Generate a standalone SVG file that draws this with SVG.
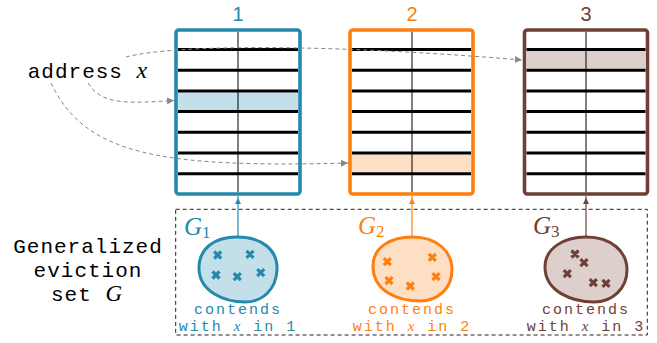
<svg xmlns="http://www.w3.org/2000/svg" width="657" height="343" viewBox="0 0 657 343">
<defs>
<marker id="ag" viewBox="0 0 10 10" refX="10" refY="5" markerWidth="7" markerHeight="7" markerUnits="userSpaceOnUse" orient="auto">
<path d="M0,0 L10,5 L0,10 Z" fill="#888888" stroke="none"/>
</marker>
</defs>
<style>
.box{fill:#fff;stroke-width:3.6}
.row{stroke:#000;stroke-width:3}
.mid{stroke:#000;stroke-width:1}
.lbl{font-family:"Liberation Sans","DejaVu Sans",sans-serif;font-size:20px;text-anchor:middle}
.tt{font-family:"Liberation Mono","DejaVu Sans Mono",monospace}
.big{font-family:"Liberation Mono","DejaVu Sans Mono",monospace;font-size:21px;letter-spacing:1px;text-anchor:middle}
.it{font-family:"Liberation Serif","DejaVu Serif",serif;font-style:italic}
.rm{font-family:"Liberation Serif","DejaVu Serif",serif}
.cap{font-family:"Liberation Mono","DejaVu Sans Mono",monospace;font-size:15px;letter-spacing:2px;text-anchor:middle}
.dash{fill:none;stroke:#888888;stroke-width:1;stroke-dasharray:4 3}
.blob{stroke-width:3}
.x{stroke-width:3.2;stroke-linecap:butt;fill:none}
</style>

<g id="cache1">
<text class="lbl" x="238" y="21" fill="#2389ad">1</text>
<rect class="box" x="176" y="30" width="124" height="164" rx="3" stroke="#2389ad"/>
<rect x="178" y="92.4" width="120" height="17.7" fill="#c3e0ea"/>
<g class="row">
<line x1="178" y1="49.5" x2="298" y2="49.5"/><line x1="178" y1="70.2" x2="298" y2="70.2"/><line x1="178" y1="90.9" x2="298" y2="90.9"/><line x1="178" y1="111.6" x2="298" y2="111.6"/><line x1="178" y1="132.3" x2="298" y2="132.3"/><line x1="178" y1="153" x2="298" y2="153"/><line x1="178" y1="173.7" x2="298" y2="173.7"/>
</g>
<line class="mid" x1="238" y1="31.8" x2="238" y2="192.2"/>
</g>

<g id="cache2">
<text class="lbl" x="412" y="21" fill="#ff7f0e">2</text>
<rect class="box" x="350" y="30" width="123" height="164" rx="3" stroke="#ff7f0e"/>
<rect x="352" y="154.5" width="119" height="17.7" fill="#ffdfc3"/>
<g class="row">
<line x1="352" y1="49.5" x2="471" y2="49.5"/><line x1="352" y1="70.2" x2="471" y2="70.2"/><line x1="352" y1="90.9" x2="471" y2="90.9"/><line x1="352" y1="111.6" x2="471" y2="111.6"/><line x1="352" y1="132.3" x2="471" y2="132.3"/><line x1="352" y1="153" x2="471" y2="153"/><line x1="352" y1="173.7" x2="471" y2="173.7"/>
</g>
<line class="mid" x1="412" y1="31.8" x2="412" y2="192.2"/>
</g>

<g id="cache3">
<text class="lbl" x="586" y="21" fill="#6f4035">3</text>
<rect class="box" x="524.5" y="30" width="123" height="164" rx="3" stroke="#6f4035"/>
<rect x="526.5" y="51" width="119" height="17.7" fill="#dccfcc"/>
<g class="row">
<line x1="526.5" y1="49.5" x2="645.5" y2="49.5"/><line x1="526.5" y1="70.2" x2="645.5" y2="70.2"/><line x1="526.5" y1="90.9" x2="645.5" y2="90.9"/><line x1="526.5" y1="111.6" x2="645.5" y2="111.6"/><line x1="526.5" y1="132.3" x2="645.5" y2="132.3"/><line x1="526.5" y1="153" x2="645.5" y2="153"/><line x1="526.5" y1="173.7" x2="645.5" y2="173.7"/>
</g>
<line class="mid" x1="586" y1="31.8" x2="586" y2="192.2"/>
</g>

<g id="address">
<text class="big" x="88" y="78">address <tspan class="it" font-size="24">x</tspan></text>
</g>

<g id="geviction">
<text class="big" x="88" y="253">Generalized</text>
<text class="big" x="88" y="277">eviction</text>
<text class="big" x="87" y="301">set <tspan class="it" font-size="23">G</tspan></text>
<rect x="175.7" y="209.3" width="471.6" height="125.7" fill="none" stroke="#222" stroke-width="1" stroke-dasharray="4 3"/>
</g>

<g id="set1">
<path class="blob" d="M237,237 C262,237 278,250 277,270 C276,290 262,302 245,302 C225,302 199,292 199,268 C199,248 215,237 237,237 Z" stroke="#2389ad" fill="#c3e0ea"/>
<path class="x" stroke="#2389ad" d="M214.2,251.5l7,7m0,-7l-7,7M246.5,250.8l7,7m0,-7l-7,7M212.5,271.5l7,7m0,-7l-7,7M233.8,273.2l7,7m0,-7l-7,7M257.2,269.2l7,7m0,-7l-7,7"/>
<text x="184" y="235" fill="#2389ad"><tspan class="it" font-size="25">G</tspan><tspan class="rm" font-size="17" dy="3">1</tspan></text>
<text class="cap" x="238" y="314" fill="#2389ad">contends</text>
<text class="cap" x="238" y="331" fill="#2389ad">with <tspan class="it">x</tspan> in 1</text>
</g>

<g id="set2">
<path class="blob" d="M412,237 C438,237 452,252 452,270 C452,289 437,301 420,301 C399,301 373,292 373,266 C373,247 391,237 412,237 Z" stroke="#ff7f0e" fill="#ffdfc3"/>
<path class="x" stroke="#ff7f0e" d="M383.8,258.2l7,7m0,-7l-7,7M428.8,253.8l7,7m0,-7l-7,7M385.5,277.2l7,7m0,-7l-7,7M432.5,273.2l7,7m0,-7l-7,7M406.8,282.5l7,7m0,-7l-7,7"/>
<text x="358" y="234" fill="#ff7f0e"><tspan class="it" font-size="25">G</tspan><tspan class="rm" font-size="17" dy="3">2</tspan></text>
<text class="cap" x="412" y="314" fill="#ff7f0e">contends</text>
<text class="cap" x="412" y="331" fill="#ff7f0e">with <tspan class="it">x</tspan> in 2</text>
</g>

<g id="set3">
<path class="blob" d="M586,237 C612,237 627,252 627,270 C627,289 612,302 594,302 C573,302 545,292 545,267 C545,248 564,237 586,237 Z" stroke="#6f4035" fill="#dccfcc"/>
<path class="x" stroke="#6f4035" d="M571.5,250.5l7,7m0,-7l-7,7M580.5,259.2l7,7m0,-7l-7,7M563.8,270.2l7,7m0,-7l-7,7M589.8,279.2l7,7m0,-7l-7,7M602.5,279.8l7,7m0,-7l-7,7"/>
<text x="533" y="234" fill="#6f4035"><tspan class="it" font-size="25">G</tspan><tspan class="rm" font-size="17" dy="3">3</tspan></text>
<text class="cap" x="586" y="314" fill="#6f4035">contends</text>
<text class="cap" x="586" y="331" fill="#6f4035">with <tspan class="it">x</tspan> in 3</text>
</g>

<g id="connectors">
<path class="dash" d="M126,57 C175,44 330,44 522,60" marker-end="url(#ag)"/>
<path class="dash" d="M88,83 C102,106 130,103 174,100.5" marker-end="url(#ag)"/>
<path class="dash" d="M51,83 C85,155 160,168 348,163" marker-end="url(#ag)"/>
<line x1="238" y1="237" x2="238" y2="196" stroke="#2389ad" stroke-width="1.2"/>
<path d="M238,198 l3,6 h-6 Z" fill="#2389ad"/>
<line x1="412" y1="237" x2="412" y2="196" stroke="#ff7f0e" stroke-width="1.2"/>
<path d="M412,198 l3,6 h-6 Z" fill="#ff7f0e"/>
<line x1="586" y1="237" x2="586" y2="196" stroke="#6f4035" stroke-width="1.2"/>
<path d="M586,198 l3,6 h-6 Z" fill="#6f4035"/>
</g>
</svg>
